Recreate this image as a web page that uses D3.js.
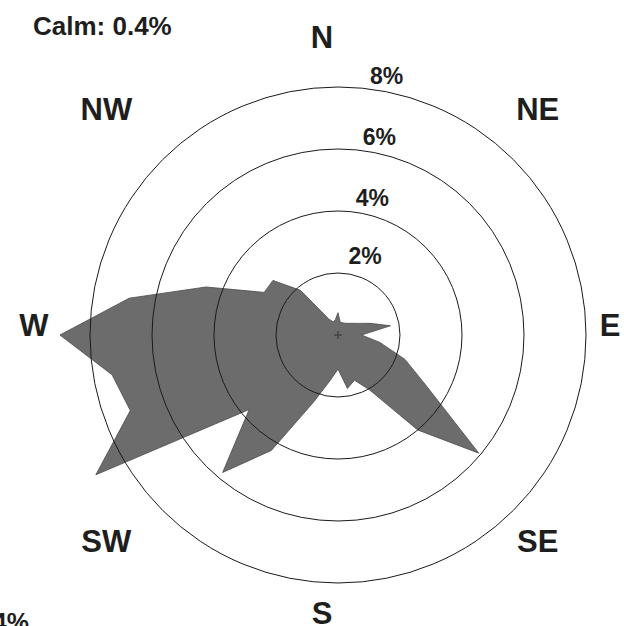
<!DOCTYPE html>
<html>
<head>
<meta charset="utf-8">
<script src="https://cdn.jsdelivr.net/npm/d3@7"></script>
<style>
  body { margin: 0; background: #fff; }
  svg text { font-family: "Liberation Sans", Arial, sans-serif; font-weight: bold; fill: #1e1e1e; }
</style>
</head>
<body>
<div id="chart"></div>
<script>
// Wind direction bearings (degrees) and frequency (%)
var bearings = [0, 10, 20, 30, 40, 50, 60, 70, 80, 90, 100, 110, 120, 130, 140, 150, 160, 170,
                180, 190, 200, 210, 220, 230, 240, 250, 260, 270, 280, 290, 300, 310, 320, 330, 340, 350];
var freqs = [0.72, 0.42, 0.42, 0.44, 0.49, 0.59, 0.75, 1.1, 1.72, 0.76, 1.37, 2.3, 3.3, 5.93, 4.0, 2.05, 1.55, 1.75,
             1.1, 1.5, 2.3, 4.3, 5.79, 3.74, 9.02, 7.13, 7.4, 8.97, 6.84, 4.53, 2.75, 2.74, 1.88, 0.6, 0.45, 0.5];
var ringTicks = [2, 4, 6, 8];
var dirLabels = ["N", "NE", "E", "SE", "S", "SW", "W", "NW"];
var calmText = "Calm: 0.4%";

var width = 624, height = 626;
var cx = 338, cy = 335;

var svg = d3.select("#chart")
            .append("svg")
            .attr("width", width)
            .attr("height", height);

var r = d3.scaleLinear()
          .domain([0, 8])
          .range([0, 248]);

var g = svg.append("g")
           .attr("transform", "translate(" + cx + "," + cy + ")");

// rose polygon
var data = bearings.map(function(b, i) { return { angle: b, value: freqs[i] }; });
g.append("path")
 .datum(data)
 .attr("fill", "#6c6c6c")
 .attr("stroke", "#4a4a4a")
 .attr("stroke-width", 0.8)
 .attr("d", d3.lineRadial()
              .angle(function(d) { return d.angle * Math.PI / 180; })
              .radius(function(d) { return r(d.value); })
              .curve(d3.curveLinearClosed));

// rings on top
g.selectAll("circle.ring")
 .data(ringTicks)
 .enter()
 .append("circle")
 .attr("class", "ring")
 .attr("r", function(d) { return r(d); })
 .attr("fill", "none")
 .attr("stroke", "#1a1a1a")
 .attr("stroke-width", 1);

// ring labels
g.selectAll("text.ring-label")
 .data(ringTicks)
 .enter()
 .append("text")
 .attr("class", "ring-label")
 .attr("x", function(d) { return 20 + 0.115 * r(d); })
 .attr("y", function(d) { return -r(d) - 1 - 500 / r(d); })
 .attr("text-anchor", "middle")
 .style("font-size", "23px")
 .text(function(d) { return d + "%"; });

// centre cross
g.append("path")
 .attr("d", "M-4,0H4M0,-4V4")
 .attr("stroke", "#333")
 .attr("stroke-width", 1);

// direction labels
svg.selectAll("text.dir")
   .data(dirLabels)
   .enter()
   .append("text")
   .attr("class", "dir")
   .attr("x", function(d, i) {
       var a = i * 45 * Math.PI / 180;
       var R = 288 + 17 * Math.abs(Math.sin(2 * a));
       return cx - 16 + R * Math.sin(a);
   })
   .attr("y", function(d, i) {
       var a = i * 45 * Math.PI / 180;
       var R = 288 + 17 * Math.abs(Math.sin(2 * a));
       return cy - 10 - R * Math.cos(a);
   })
   .attr("dy", "0.36em")
   .attr("text-anchor", "middle")
   .style("font-size", "31px")
   .text(function(d) { return d; });

svg.append("text")
   .attr("x", 33)
   .attr("y", 35)
   .style("font-size", "26px")
   .text(calmText);

svg.append("text")
   .attr("x", 29)
   .attr("y", 631)
   .attr("text-anchor", "end")
   .style("font-size", "25px")
   .text("4%");
</script>
</body>
</html>
